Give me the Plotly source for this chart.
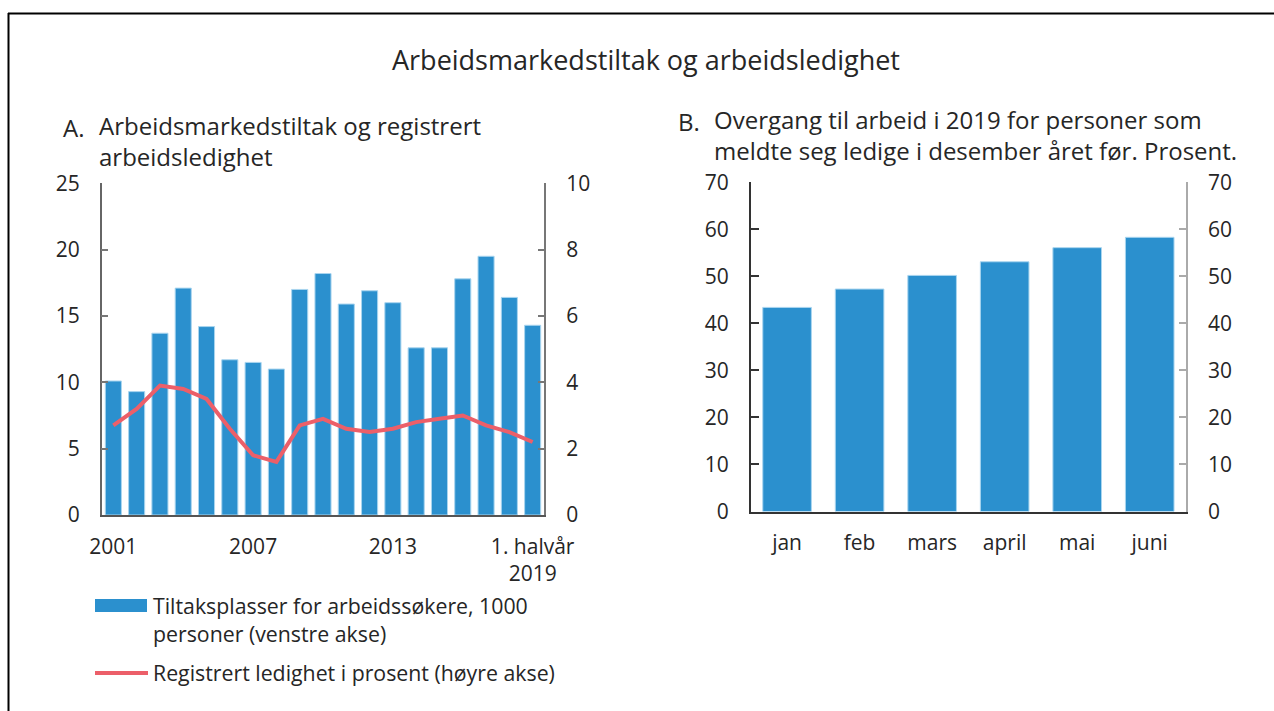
import plotly.graph_objects as go

W, H = 1274, 711

# ---- data ----
years = list(range(2001, 2020))
tiltak = [10.1, 9.3, 13.7, 17.1, 14.2, 11.7, 11.5, 11.0, 17.0, 18.2,
          15.9, 16.9, 16.0, 12.6, 12.6, 17.8, 19.5, 16.4, 14.3]
ledighet = [2.7, 3.2, 3.9, 3.8, 3.5, 2.6, 1.8, 1.6, 2.7, 2.9,
            2.6, 2.5, 2.6, 2.8, 2.9, 3.0, 2.7, 2.5, 2.2]
year_tickvals = [2001, 2007, 2013, 2019]
year_ticktext = ["2001", "2007", "2013", "1. halvår<br>2019"]

months = ["jan", "feb", "mars", "april", "mai", "juni"]
overgang = [43.4, 47.3, 50.2, 53.1, 56.1, 58.3]

BLUE = "#2B90CE"
EDGE = "#A9D5EF"
RED = "#EC5F69"
TXT = "#262626"
FONT = "Open Sans"

def px_x(x):
    return x / W

def px_y(y):
    return 1 - y / H

fig = go.Figure()

fig.add_trace(go.Bar(x=years, y=tiltak, marker=dict(color=BLUE, line=dict(color=EDGE, width=1)),
                     width=0.69, xaxis="x", yaxis="y", showlegend=False))
fig.add_trace(go.Scatter(x=years, y=ledighet, mode="lines", line=dict(color=RED, width=4),
                         xaxis="x", yaxis="y2", showlegend=False))

fig.add_trace(go.Bar(x=months, y=overgang, marker=dict(color=BLUE, line=dict(color=EDGE, width=1)),
                     width=0.67, xaxis="x3", yaxis="y3", showlegend=False))
fig.add_trace(go.Scatter(x=months, y=overgang, mode="markers", marker=dict(opacity=0),
                         hoverinfo="skip", xaxis="x3", yaxis="y4", showlegend=False))

tickfont = dict(family=FONT, size=21, color=TXT)

A_dom_x = [px_x(101.7), px_x(544.3)]
A_dom_y = [px_y(515), px_y(183.3)]
B_dom_x = [px_x(750.8), px_x(1186)]
B_dom_y = [px_y(511.5), px_y(182.3)]

common = dict(showgrid=False, zeroline=False, showline=True, linewidth=1.5,
              tickfont=tickfont, automargin=False)

fig.update_layout(
    width=W, height=H, autosize=False,
    margin=dict(l=0, r=0, t=0, b=0, pad=0, autoexpand=False),
    paper_bgcolor="white", plot_bgcolor="white",
    font=dict(family=FONT, color=TXT),
    showlegend=False,
    xaxis=dict(domain=A_dom_x, anchor="y", range=[2000.5, 2019.5],
               tickvals=year_tickvals, ticktext=year_ticktext, ticks="",
               linecolor="#555", ticklabelstandoff=12, **common),
    yaxis=dict(domain=A_dom_y, anchor="x", range=[0, 25], dtick=5,
               ticks="inside", ticklen=7, tickcolor="#777", tickwidth=1.5,
               linecolor="#666", ticklabelstandoff=16, **common),
    yaxis2=dict(overlaying="y", side="right", anchor="x", range=[0, 10], dtick=2,
                ticks="inside", ticklen=7, tickcolor="#777", tickwidth=1.5,
                linecolor="#777", ticklabelstandoff=16, **common),
    xaxis3=dict(domain=B_dom_x, anchor="y3", range=[-0.5, 5.5], ticks="",
                linecolor="#333", ticklabelstandoff=12, **common),
    yaxis3=dict(domain=B_dom_y, anchor="x3", range=[0, 70], dtick=10,
                ticks="inside", ticklen=8, tickcolor="#333", tickwidth=1.5,
                linecolor="#333", ticklabelstandoff=16, **common),
    yaxis4=dict(overlaying="y3", side="right", anchor="x3", range=[0, 70], dtick=10,
                ticks="inside", ticklen=7, tickcolor="#aaa", tickwidth=1.5,
                linecolor="#aaa", ticklabelstandoff=16, **common),
)

def ann(text, x, y, size, xanchor="left", yanchor="middle", align="left"):
    fig.add_annotation(text=text, x=px_x(x), y=px_y(y), xref="paper", yref="paper",
                       xanchor=xanchor, yanchor=yanchor, align=align, showarrow=False,
                       font=dict(family=FONT, size=size, color=TXT))

# titles
ann("Arbeidsmarkedstiltak og arbeidsledighet", 646, 59, 27, xanchor="center")
ann("A.", 61, 127.5, 24)
ann("Arbeidsmarkedstiltak og registrert<br>arbeidsledighet", 97, 141, 24)
ann("B.", 676, 121, 24)
ann("Overgang til arbeid i 2019 for personer som<br>meldte seg ledige i desember året før. Prosent.", 712, 134.5, 24)

# legend
fig.add_shape(type="rect", xref="paper", yref="paper", x0=px_x(95), x1=px_x(147),
              y0=px_y(612), y1=px_y(599), fillcolor=BLUE, line=dict(width=0))
ann("Tiltaksplasser for arbeidssøkere, 1000<br>personer (venstre akse)", 151, 619.5, 21.3)
fig.add_shape(type="line", xref="paper", yref="paper", x0=px_x(95), x1=px_x(148),
              y0=px_y(673), y1=px_y(673), line=dict(color=RED, width=4))
ann("Registrert ledighet i prosent (høyre akse)", 151, 672, 21.3)

# frame
fig.add_shape(type="line", xref="paper", yref="paper", x0=px_x(8), x1=1.0,
              y0=px_y(13.5), y1=px_y(13.5), line=dict(color="black", width=2))
fig.add_shape(type="line", xref="paper", yref="paper", x0=px_x(8.5), x1=px_x(8.5),
              y0=px_y(13), y1=0.0, line=dict(color="black", width=2))

fig.write_html("out.html", config={"displayModeBar": False},
               post_script="document.body.style.margin='0';document.documentElement.style.overflow='hidden';")
